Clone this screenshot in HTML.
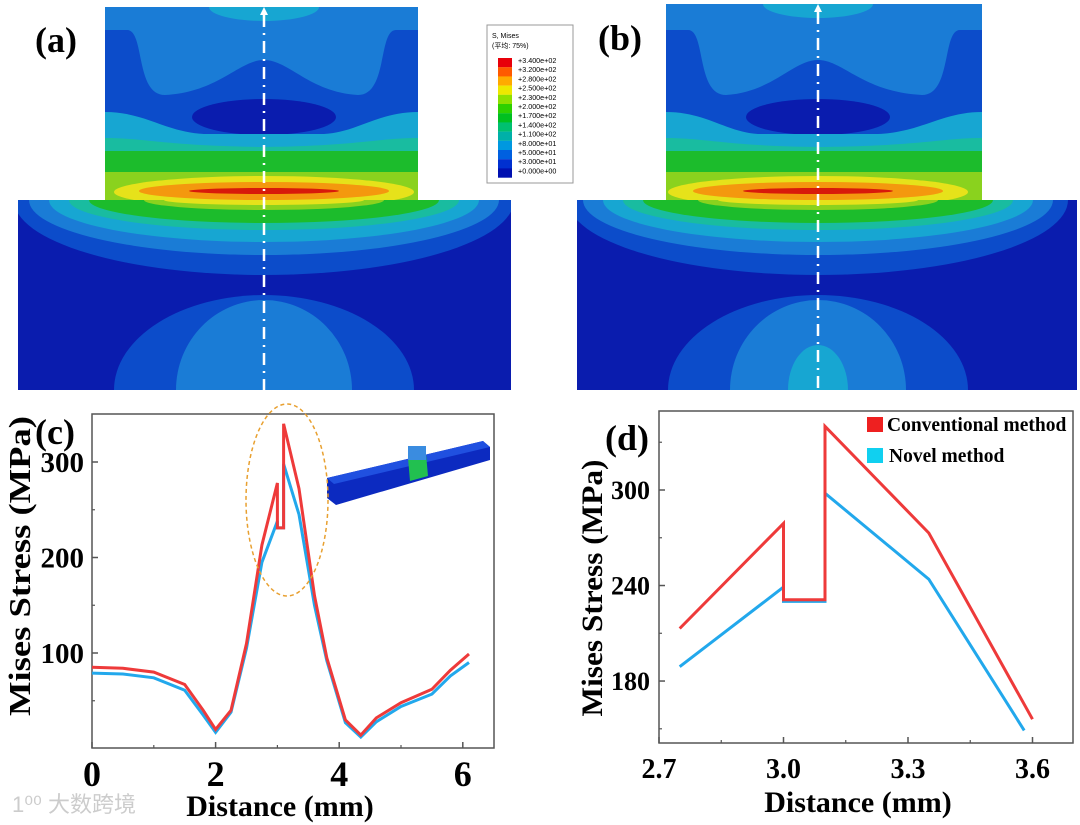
<!DOCTYPE html>
<html><head><meta charset="utf-8"><style>
html,body{margin:0;padding:0;background:#fff;}
svg{display:block;font-family:"Liberation Serif",serif;}
.lbl{font-weight:bold;font-size:36px;}
.tk{font-weight:bold;}
</style></head><body>
<svg id="fig" width="1080" height="825" viewBox="0 0 1080 825" xmlns="http://www.w3.org/2000/svg">
<defs>
<clipPath id="cu1"><rect x="105" y="7" width="313" height="193"/></clipPath>
<clipPath id="cl1"><rect x="18" y="200" width="493" height="190"/></clipPath>
<clipPath id="cu2"><rect x="666" y="4" width="316" height="196"/></clipPath>
<clipPath id="cl2"><rect x="577" y="200" width="500" height="190"/></clipPath>
</defs>
<g id="contour-a"></g>
<g id="contour-b"></g>
<text x="35" y="52" class="lbl">(a)</text>
<text x="598" y="50" class="lbl">(b)</text>
<g id="colorbar">
<rect x="487" y="25" width="86" height="158" fill="#fff" stroke="#999" stroke-width="1"/>
<text x="492" y="38" font-family="Liberation Sans,sans-serif" font-size="7">S, Mises</text>
<text x="492" y="48" font-family="Liberation Sans,'Noto Sans CJK SC',sans-serif" font-size="7">(平均: 75%)</text>
</g>
<g id="chart-c"></g>
<g id="chart-d"></g>
<text x="12" y="812" font-family="Liberation Sans,'Noto Sans CJK SC',sans-serif" font-size="22" fill="#ccc">1⁰⁰ 大数跨境</text>
</svg>
<script>
const NS="http://www.w3.org/2000/svg";
function el(p,t,a){const e=document.createElementNS(NS,t);for(const k in a)e.setAttribute(k,a[k]);p.appendChild(e);return e;}
const C={dk:"#0a1cae",b2:"#0c4cca",b3:"#1a7cd6",lb:"#17a6d2",cy:"#19bca0",gr:"#1cbc2c",li:"#8ad21e",ye:"#e6e21a",or:"#f4980e",rd:"#d81a0a"};
function contour(g,cx,cu,cl,ux0,ux1,uy0,lx0,lx1,bcyan){
  const u=el(g,"g",{"clip-path":"url(#"+cu+")"});
  el(u,"rect",{x:ux0,y:uy0,width:ux1-ux0,height:200-uy0,fill:C.b3});
  el(u,"ellipse",{cx:cx,cy:uy0,rx:55,ry:14,fill:C.lb});
  el(u,"path",{d:`M${ux0},30 L${ux0+22},30 C${ux0+40},30 ${ux0+30},95 ${ux0+60},95 C${cx-45},92 ${cx-25},60 ${cx},60 C${cx+25},60 ${cx+45},92 ${ux1-60},95 C${ux1-30},95 ${ux1-40},30 ${ux1-22},30 L${ux1},30 L${ux1},200 L${ux0},200Z`,fill:C.b2});
  el(u,"ellipse",{cx:cx,cy:117,rx:72,ry:18,fill:C.dk});
  el(u,"path",{d:`M${ux0},112 C${ux0+40},112 ${ux0+60},132 ${cx-60},134 L${cx+60},134 C${ux1-60},132 ${ux1-40},112 ${ux1},112 L${ux1},200 L${ux0},200Z`,fill:C.lb});
  el(u,"path",{d:`M${ux0},138 C${ux0+40},138 ${ux0+60},146 ${cx},147 C${ux1-60},146 ${ux1-40},138 ${ux1},138 L${ux1},200 L${ux0},200Z`,fill:C.cy});
  el(u,"rect",{x:ux0,y:151,width:ux1-ux0,height:49,fill:C.gr});
  el(u,"rect",{x:ux0,y:172,width:ux1-ux0,height:28,fill:C.li});
  el(u,"ellipse",{cx:cx,cy:192,rx:150,ry:16,fill:C.ye});
  el(u,"ellipse",{cx:cx,cy:191,rx:125,ry:9,fill:C.or});
  el(u,"ellipse",{cx:cx,cy:191,rx:75,ry:3,fill:C.rd});
  const l=el(g,"g",{"clip-path":"url(#"+cl+")"});
  el(l,"rect",{x:lx0,y:200,width:lx1-lx0,height:190,fill:C.dk});
  el(l,"ellipse",{cx:cx,cy:390,rx:150,ry:95,fill:C.b2});
  el(l,"ellipse",{cx:cx,cy:390,rx:88,ry:90,fill:C.b3});
  if(bcyan)el(l,"ellipse",{cx:cx,cy:390,rx:30,ry:45,fill:C.lb});
  const hl=[[C.b2,250,75],[C.b3,235,55],[C.lb,215,42],[C.cy,195,30],[C.gr,175,23],[C.li,120,10],[C.ye,100,5]];
  hl.forEach(h=>el(l,"ellipse",{cx:cx,cy:200,rx:h[1],ry:h[2],fill:h[0]}));
  el(g,"line",{x1:cx,y1:uy0+8,x2:cx,y2:390,stroke:"#fff","stroke-width":2.5,"stroke-dasharray":"12,6,2,6"});
  el(g,"polygon",{points:`${cx-4},${uy0+8} ${cx+4},${uy0+8} ${cx},${uy0}`,fill:"#fff"});
}
contour(document.getElementById("contour-a"),264,"cu1","cl1",105,418,7,18,511,false);
contour(document.getElementById("contour-b"),818,"cu2","cl2",666,982,4,577,1077,true);

const cbColors=["#e8000a","#ff5a00","#ffaa00","#ede800","#8ee000","#2ed000","#00c020","#00c070","#00b0a8","#0098e0","#0060e0","#0030d0","#0010b0"];
const cbLabels=["+3.400e+02","+3.200e+02","+2.800e+02","+2.500e+02","+2.300e+02","+2.000e+02","+1.700e+02","+1.400e+02","+1.100e+02","+8.000e+01","+5.000e+01","+3.000e+01","+0.000e+00"];
const cb=document.getElementById("colorbar");
cbColors.forEach((c,i)=>{const r=el(cb,"rect",{x:498,y:58+i*9.2,width:14,height:9.3,fill:c});

});
cbLabels.forEach((t,i)=>{const x=el(cb,"text",{x:518,y:63+i*9.2,"font-size":7.2,"font-family":"Liberation Sans,sans-serif"});x.textContent=t;});

const cX=[0,0.5,1,1.5,1.8,2,2.25,2.5,2.75,3.0,3.0,3.1,3.1,3.35,3.6,3.8,4.1,4.35,4.6,5.0,5.5,5.8,6.1];
const cRed=[85,84,80,67,40,20,40,110,213,278,231,231,340,272,160,95,30,14,32,48,62,82,99];
const cBlue=[79,78,74,61,35,17,38,105,195,238,231,231,298,245,150,92,27,12,28,44,57,76,90];
const cXTicks=[0,2,4,6];
const cYTicks=[100,200,300];
const dX=[2.75,3.0,3.0,3.1,3.1,3.35,3.6];
const dRed=[213,279,231,231,340,273,156];
const dXB=[2.75,3.0,3.0,3.1,3.1,3.35,3.58];
const dBlue=[189,239,230,230,298,244,149];
const dXTicks=[2.7,3.0,3.3,3.6];
const dYTicks=[180,240,300];

function axisFrame(g,x0,x1,y0,y1){el(g,"rect",{x:x0,y:y0,width:x1-x0,height:y1-y0,fill:"none",stroke:"#555","stroke-width":1.5});}
function line(g,xs,ys,sx,sy,col,name){const p=el(g,"polyline",{points:xs.map((x,i)=>sx(x).toFixed(1)+","+sy(ys[i]).toFixed(1)).join(" "),fill:"none",stroke:col,"stroke-width":3,"stroke-linejoin":"miter"});

}

(function(){
const g=document.getElementById("chart-c");
const sx=v=>92+v*61.8, sy=v=>653-(v-100)*0.955;
axisFrame(g,92,494,414,748);
cXTicks.forEach(t=>{el(g,"line",{x1:sx(t),x2:sx(t),y1:748,y2:742,stroke:"#555","stroke-width":1.5});const tx=el(g,"text",{x:sx(t),y:786,"text-anchor":"middle","font-size":36,class:"tk"});tx.textContent=t;
});
[1,3,5].forEach(t=>el(g,"line",{x1:sx(t),x2:sx(t),y1:748,y2:745,stroke:"#555","stroke-width":1.2}));
cYTicks.forEach(t=>{el(g,"line",{x1:92,x2:98,y1:sy(t),y2:sy(t),stroke:"#555","stroke-width":1.5});const tx=el(g,"text",{x:84,y:sy(t)+10,"text-anchor":"end","font-size":29,class:"tk"});tx.textContent=t;
});
[50,150,250].forEach(t=>el(g,"line",{x1:92,x2:95,y1:sy(t),y2:sy(t),stroke:"#555","stroke-width":1.2}));
el(g,"polygon",{points:"327,478 483,441 490,447 490,460 336,505 327,498",fill:"#0c2ac0"});
el(g,"polygon",{points:"327,478 483,441 490,447 334,484",fill:"#2050e0"});
el(g,"polygon",{points:"408,458 426,454 428,476 410,481",fill:"#22c050"});
el(g,"rect",{x:408,y:446,width:18,height:14,fill:"#3a8ce0"});
line(g,cX,cBlue,sx,sy,"#22a8ec","series-novel-c");
line(g,cX,cRed,sx,sy,"#ee3a3a","series-conventional-c");
el(g,"ellipse",{cx:287,cy:500,rx:41,ry:96,fill:"none",stroke:"#e8a030","stroke-width":1.5,"stroke-dasharray":"4,3"});
const t1=el(g,"text",{x:35,y:444,class:"lbl"});t1.textContent="(c)";

const yt=el(g,"text",{transform:"translate(30,566) rotate(-90)","text-anchor":"middle","font-size":31,"font-weight":"bold",textLength:300,lengthAdjust:"spacingAndGlyphs"});yt.textContent="Mises Stress (MPa)";

const xt=el(g,"text",{x:280,y:816,"text-anchor":"middle","font-size":30,"font-weight":"bold"});xt.textContent="Distance (mm)";

})();

(function(){
const g=document.getElementById("chart-d");
const sx=v=>659+(v-2.7)*415, sy=v=>490-(v-300)*1.592;
axisFrame(g,659,1073,411,743);
dXTicks.forEach(t=>{el(g,"line",{x1:sx(t),x2:sx(t),y1:743,y2:737,stroke:"#555","stroke-width":1.5});const tx=el(g,"text",{x:sx(t),y:778,"text-anchor":"middle","font-size":28,class:"tk"});tx.textContent=t.toFixed(1);
});
[2.85,3.15,3.45].forEach(t=>el(g,"line",{x1:sx(t),x2:sx(t),y1:743,y2:740,stroke:"#555","stroke-width":1.2}));
dYTicks.forEach(t=>{el(g,"line",{x1:659,x2:665,y1:sy(t),y2:sy(t),stroke:"#555","stroke-width":1.5});const tx=el(g,"text",{x:650,y:sy(t)+9,"text-anchor":"end","font-size":26,class:"tk"});tx.textContent=t;
});
[150,210,270,330].forEach(t=>el(g,"line",{x1:659,x2:662,y1:sy(t),y2:sy(t),stroke:"#555","stroke-width":1.2}));
line(g,dXB,dBlue,sx,sy,"#22a8ec","series-novel-d");
line(g,dX,dRed,sx,sy,"#ee3a3a","series-conventional-d");
el(g,"rect",{x:867,y:417,width:16,height:15,fill:"#ee2020"});
el(g,"rect",{x:867,y:448,width:16,height:15,fill:"#10d0f0"});
const l1=el(g,"text",{x:887,y:431,"font-size":19.5,"font-weight":"bold"});l1.textContent="Conventional method";

const l2=el(g,"text",{x:889,y:462,"font-size":19.5,"font-weight":"bold"});l2.textContent="Novel method";

const t1=el(g,"text",{x:605,y:450,class:"lbl"});t1.textContent="(d)";

const yt=el(g,"text",{transform:"translate(602,588) rotate(-90)","text-anchor":"middle","font-size":30,"font-weight":"bold",textLength:257,lengthAdjust:"spacingAndGlyphs"});yt.textContent="Mises Stress (MPa)";

const xt=el(g,"text",{x:858,y:812,"text-anchor":"middle","font-size":30,"font-weight":"bold"});xt.textContent="Distance (mm)";

})();
</script>
</body></html>
